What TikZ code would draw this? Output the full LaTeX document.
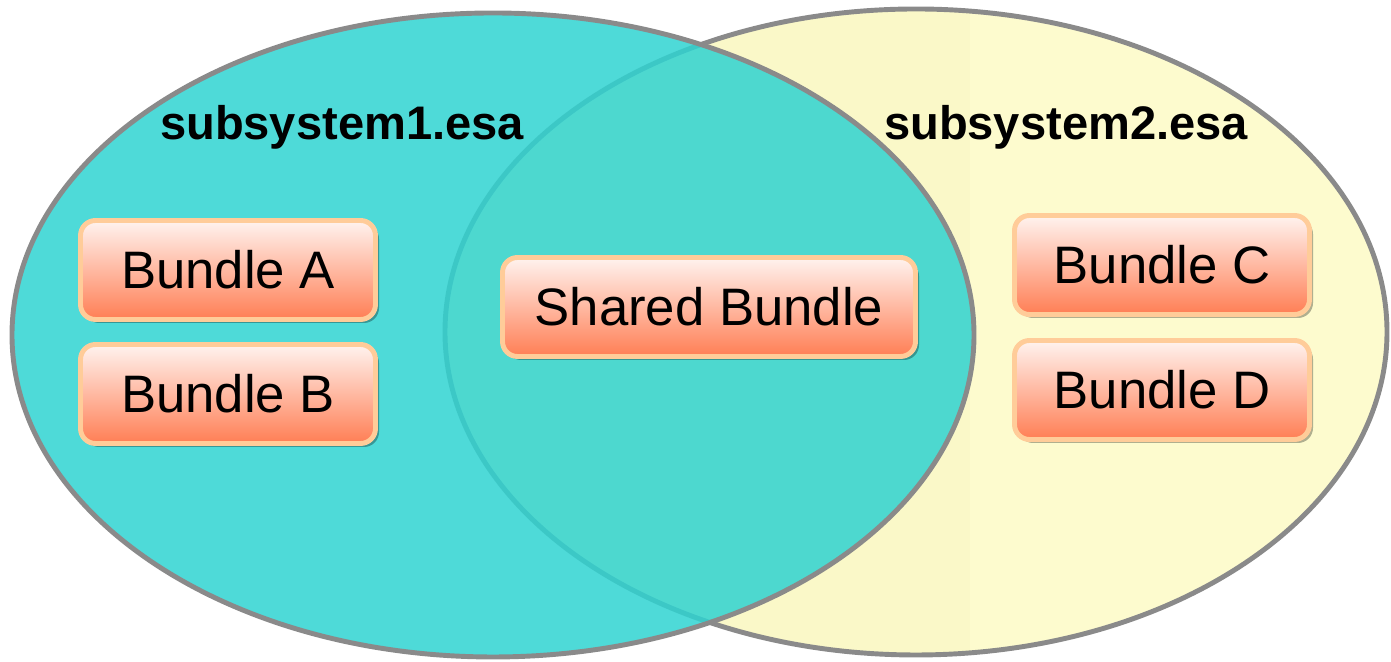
\documentclass[tikz,border=0pt]{standalone}
\usepackage{fontspec}
\setmainfont{Liberation Sans}
\usepackage{tikz}
\usetikzlibrary{shadows}

\definecolor{ringgray}{RGB}{138,138,138}
\definecolor{esacyan}{RGB}{47,211,209}
\definecolor{esayellow}{RGB}{250,248,200}
\definecolor{esalight}{RGB}{253,251,206}
\definecolor{bundleedge}{RGB}{255,204,153}
\definecolor{bundletop}{RGB}{255,243,239}
\definecolor{bundlebottom}{RGB}{255,126,84}

\begin{document}
\begin{tikzpicture}[
		bundle/.style={draw=bundleedge, line width=1.4pt, rounded corners=0.15cm,
			top color=bundletop, bottom color=bundlebottom, minimum height=0.99cm,
			drop shadow={shadow xshift=0.035cm, shadow yshift=-0.035cm, opacity=0.3, fill=black},
			font=\fontsize{15}{18}\selectfont},
		esalabel/.style={font=\bfseries\fontsize{13.4}{16}\selectfont, anchor=base}
	]
				\useasboundingbox (0, 0) rectangle (13.91, 6.62);
				\coordinate (Esa1) at (4.93, 3.27);
				\coordinate (Esa2) at (9.16, 3.30);
				
				\fill[esayellow] (Esa2) ellipse (4.71 and 3.23);
				\begin{scope}
					\clip (Esa2) ellipse (4.71 and 3.23);
					\fill[esalight] (9.70, 0) rectangle (13.91, 6.62);
				\end{scope}
				\draw[ringgray, line width=1.4pt] (Esa2) ellipse (4.71 and 3.23);
				\draw[ringgray, line width=1.4pt, fill=esacyan, fill opacity=0.85] (Esa1) ellipse (4.81 and 3.22);
				
				\node[esalabel] (Sub1) at (3.42, 5.22) {subsystem1.esa};
				\node[esalabel] (Sub2) at (10.66, 5.22) {subsystem2.esa};
				
				\node[bundle, minimum width=2.95cm] (BundleA) at (2.28, 3.92) {Bundle A};
				\node[bundle, minimum width=2.95cm] (BundleB) at (2.28, 2.68) {Bundle B};
				\node[bundle, minimum width=4.13cm] (Shared) at (7.09, 3.55) {Shared Bundle};
				\node[bundle, minimum width=2.95cm] (BundleC) at (11.62, 3.97) {Bundle C};
				\node[bundle, minimum width=2.95cm] (BundleD) at (11.62, 2.72) {Bundle D};
			\end{tikzpicture}
\end{document}
